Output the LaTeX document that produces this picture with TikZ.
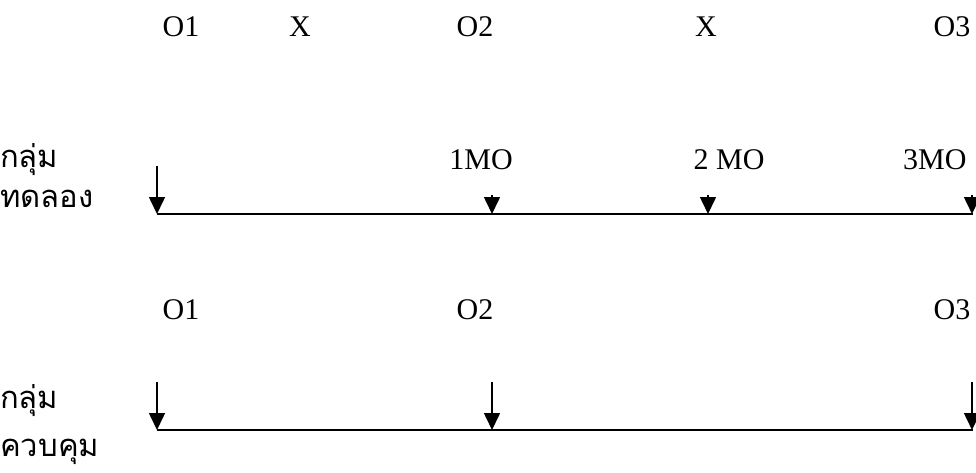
\documentclass[tikz,border=0pt]{standalone}
\usepackage{fontspec}
\setmainfont{Liberation Serif}
\newfontfamily\thaifont[Script=Thai]{Loma}
\usetikzlibrary{arrows.meta}
\tikzset{
  lbl/.style={inner sep=0pt, font=\fontsize{30}{32}\selectfont},
  thl/.style={inner sep=0pt, anchor=west, font=\thaifont\fontsize{31}{36}\selectfont},
  axis/.style={line width=2pt},
  tick/.style={line width=1.6pt, -{Triangle[length=17pt,width=16pt]}}
}
\begin{document}
\begin{tikzpicture}[x=1pt,y=-1pt]
\useasboundingbox (0,0) rectangle (976,473);
% experimental group
\node[lbl] (o1a) at (181,27) {O1};
\node[lbl] (xa) at (300,27) {X};
\node[lbl] (o2a) at (475,27) {O2};
\node[lbl] (xb) at (706,27) {X};
\node[lbl] (o3a) at (952,27) {O3};
\node[thl] (g1) at (0,160) {กลุ่ม};
\node[thl] (g2) at (0,199) {ทดลอง};
\node[lbl] (m1) at (481,160) {1MO};
\node[lbl] (m2) at (729,160) {2 MO};
\node[lbl,anchor=west] (m3) at (903,160) {3MO};
\coordinate (aL) at (157,214);
\coordinate (aR) at (973,214);
\draw[axis] (aL) -- (aR);
\coordinate (t1) at (157,166);
\coordinate (b1) at (157,214);
\coordinate (t2) at (492,195);
\coordinate (b2) at (492,214);
\coordinate (t3) at (708,195);
\coordinate (b3) at (708,214);
\coordinate (t4) at (972,195);
\coordinate (b4) at (972,214);
\draw[tick] (t1) -- (b1);
\draw[tick] (t2) -- (b2);
\draw[tick] (t3) -- (b3);
\draw[tick] (t4) -- (b4);
% control group
\node[lbl] (o1b) at (181,310) {O1};
\node[lbl] (o2b) at (475,310) {O2};
\node[lbl] (o3b) at (952,310) {O3};
\node[thl] (g3) at (0,401) {กลุ่ม};
\node[thl] (g4) at (0,452) {ควบคุม};
\coordinate (cL) at (157,430);
\coordinate (cR) at (973,430);
\draw[axis] (cL) -- (cR);
\coordinate (u1) at (157,382);
\coordinate (v1) at (157,430);
\coordinate (u2) at (492,382);
\coordinate (v2) at (492,430);
\coordinate (u3) at (972,382);
\coordinate (v3) at (972,430);
\draw[tick] (u1) -- (v1);
\draw[tick] (u2) -- (v2);
\draw[tick] (u3) -- (v3);
\end{tikzpicture}
\end{document}
